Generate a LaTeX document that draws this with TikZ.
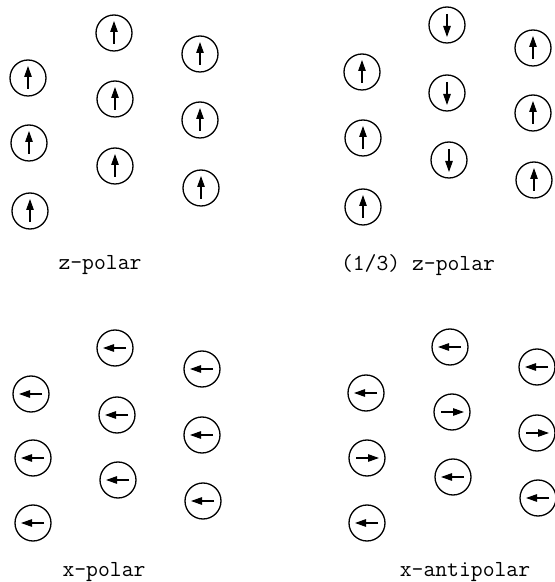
\documentclass[tikz,border=0pt]{standalone}
\usetikzlibrary{arrows.meta}
\newcommand{\lbl}{\fontsize{23}{26}\selectfont\ttfamily}
\tikzset{platz/.style={circle,draw,line width=1.3pt,minimum size=36pt,inner sep=0},
  spinpfeil/.style={line width=1.2pt,
    -{Triangle[length=11pt,width=7.5pt]}}}
% #1 name, #2 position, #3 direction of the spin
\newcommand{\spin}[3]{\node[platz] (#1) at (#2) {};
  \draw[spinpfeil] (#1.center) ++(#3+180:11) -- ++(#3:23);}

\begin{document}
\begin{tikzpicture}[x=1pt,y=1pt]
\useasboundingbox (0,0) rectangle (555,582);
% z-polar
\spin{za1}{28,504}{90} \spin{za2}{29,439}{90} \spin{za3}{30,371}{90}
\spin{zb1}{114,549}{90} \spin{zb2}{115,483}{90} \spin{zb3}{115,416}{90}
\spin{zc1}{200,528}{90} \spin{zc2}{200,462}{90} \spin{zc3}{201,394}{90}
\node[font=\lbl,inner sep=0] (lzpol) at (100,317) {z-polar};
% (1/3) z-polar
\spin{da1}{362,510}{90} \spin{da2}{363,444}{90} \spin{da3}{363,375}{90}
\spin{db1}{447,557}{270} \spin{db2}{447,489}{270} \spin{db3}{449,422}{270}
\spin{dc1}{533,534}{90} \spin{dc2}{533,469}{90} \spin{dc3}{534,402}{90}
\node[font=\lbl,inner sep=0] (ldrittel) at (418,317) {(1/3) z-polar};
% x-polar
\spin{xa1}{31,188}{180} \spin{xa2}{33,124}{180} \spin{xa3}{33,59}{180}
\spin{xb1}{115,234}{180} \spin{xb2}{117,167}{180} \spin{xb3}{118,102}{180}
\spin{xc1}{202,213}{180} \spin{xc2}{202,147}{180} \spin{xc3}{203,81}{180}
\node[font=\lbl,inner sep=0] (lxpol) at (104,10) {x-polar};
% x-antipolar
\spin{aa1}{366,189}{180} \spin{aa2}{367,124}{0} \spin{aa3}{367,59}{180}
\spin{ab1}{450,235}{180} \spin{ab2}{452,170}{0} \spin{ab3}{453,105}{180}
\spin{ac1}{537,215}{180} \spin{ac2}{537,149}{0} \spin{ac3}{538,84}{180}
\node[font=\lbl,inner sep=0] (lanti) at (465,10) {x-antipolar};
\end{tikzpicture}
\end{document}
